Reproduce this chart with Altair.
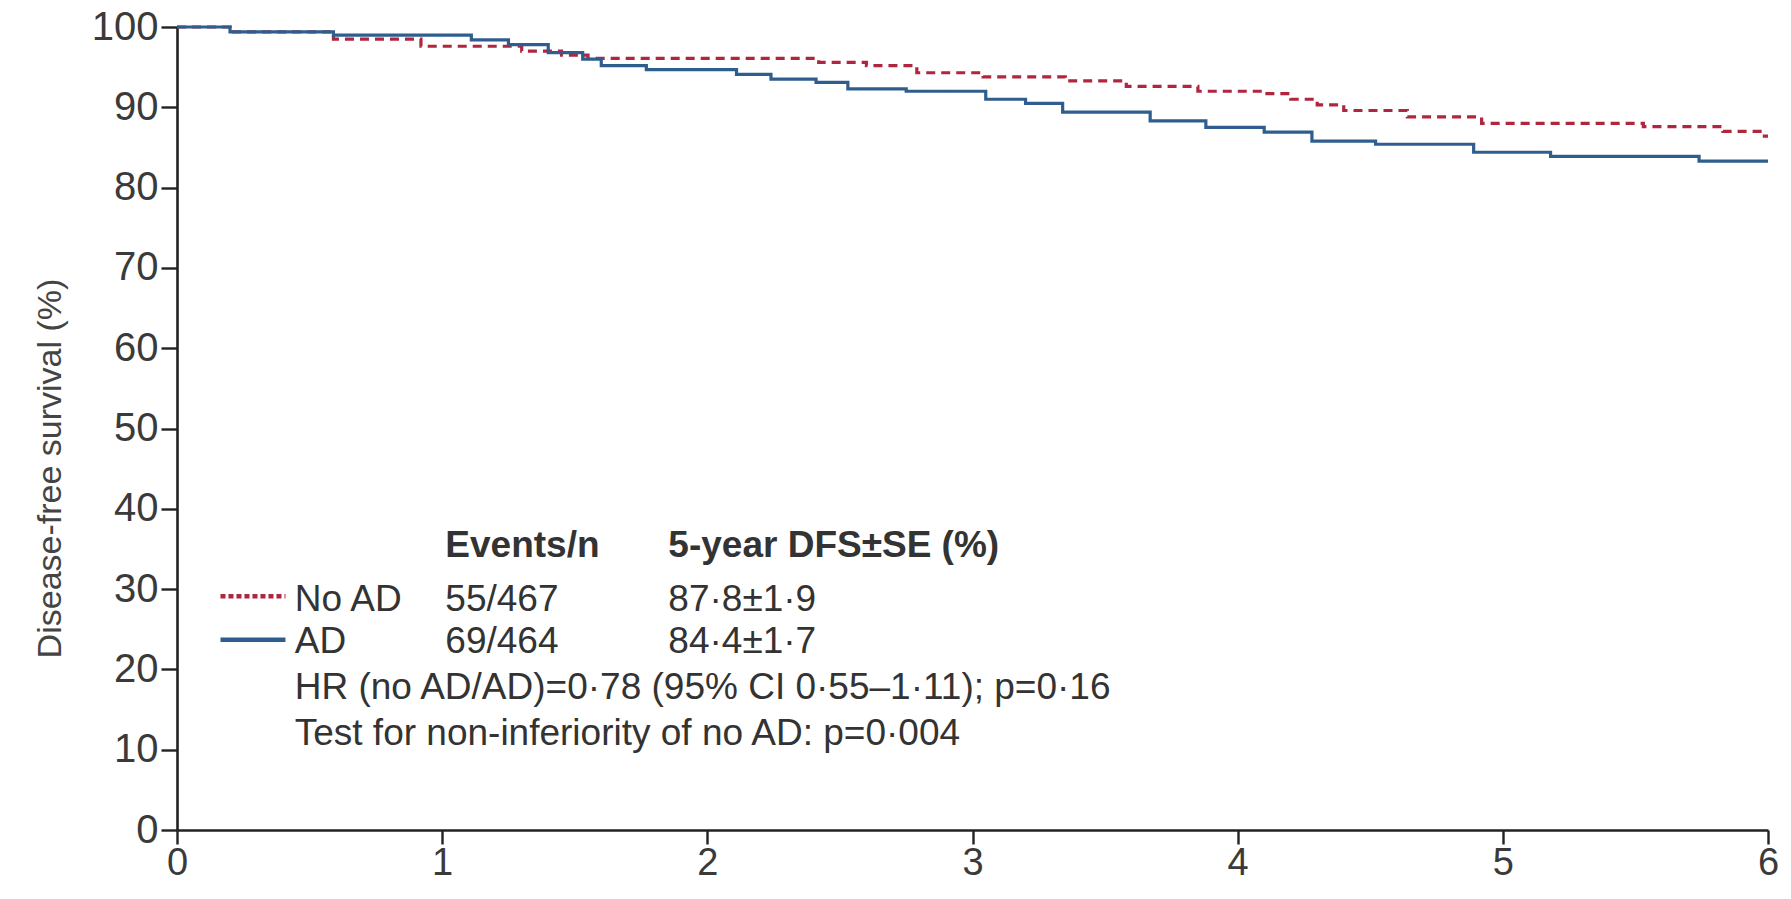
import altair as alt
import pandas as pd

# ---- data ----
noad_t = [0, 0.2, 0.59, 0.92, 1.3, 1.45, 1.55, 2.42, 2.6, 2.79, 3.04, 3.35, 3.58, 3.85,
          4.1, 4.2, 4.3, 4.4, 4.64, 4.92, 5.53, 5.83, 5.97, 6.0]
noad_s = [100, 99.4, 98.5, 97.6, 97.0, 96.5, 96.1, 95.6, 95.2, 94.3, 93.8, 93.3, 92.6, 92.0,
          91.7, 91.0, 90.3, 89.6, 88.8, 88.0, 87.6, 87.0, 86.4, 86.4]

ad_t = [0, 0.2, 0.59, 1.11, 1.25, 1.4, 1.53, 1.6, 1.77, 2.11, 2.24, 2.41, 2.53, 2.75, 3.05,
        3.2, 3.34, 3.67, 3.88, 4.1, 4.28, 4.52, 4.89, 5.18, 5.74, 6.0]
ad_s = [100, 99.4, 99.0, 98.4, 97.8, 96.8, 96.0, 95.2, 94.7, 94.1, 93.5, 93.1, 92.3, 92.0, 91.0,
        90.5, 89.4, 88.3, 87.5, 86.9, 85.8, 85.4, 84.4, 83.9, 83.3, 83.3]

groups = ["No AD", "AD"]
colors = ["#b0263f", "#2e5d8e"]

header_text = ["Events/n", "5-year DFS±SE (%)"]
header_x = [1.012, 1.853]
header_y = [35.4, 35.4]

row_text = ["No AD", "55/467", "87·8±1·9", "AD", "69/464", "84·4±1·7",
            "HR (no AD/AD)=0·78 (95% CI 0·55–1·11); p=0·16",
            "Test for non-inferiority of no AD: p=0·004"]
row_x = [0.444, 1.012, 1.853, 0.444, 1.012, 1.853, 0.444, 0.444]
row_y = [28.7, 28.7, 28.7, 23.4, 23.4, 23.4, 17.7, 12.0]

leg_x1 = [0.164, 0.164]
leg_x2 = [0.409, 0.409]
leg_y = [29.1, 23.7]

x_ticks = [0, 1, 2, 3, 4, 5, 6]
y_ticks = [0, 10, 20, 30, 40, 50, 60, 70, 80, 90, 100]

FONT = "Liberation Sans"

curves = pd.DataFrame(
    {"t": noad_t + ad_t,
     "s": noad_s + ad_s,
     "group": ["No AD"] * len(noad_t) + ["AD"] * len(ad_t)}
)
legend_df = pd.DataFrame({"x1": leg_x1, "x2": leg_x2, "y": leg_y, "group": groups})
head_df = pd.DataFrame({"x": header_x, "y": header_y, "label": header_text})
rows_df = pd.DataFrame({"x": row_x, "y": row_y, "label": row_text})

xscale = alt.Scale(domain=[0, 6], nice=False, zero=False)
yscale = alt.Scale(domain=[0, 100], nice=False)
cscale = alt.Scale(domain=groups, range=colors)
dscale = alt.Scale(domain=groups, range=[[9, 6], [1, 0]])

x_axis = alt.Axis(values=x_ticks, title=None, format="d", labelFontSize=38,
                  labelPadding=0, labelFlush=False, tickSize=14)
y_axis = alt.Axis(values=y_ticks, title="Disease-free survival (%)", format="d",
                  labelFontSize=40, labelPadding=3, tickSize=16,
                  titleFontSize=34, titleFontWeight="normal",
                  titlePadding=24, titleColor="#444", titleY=441)

base = alt.Chart(curves)

lines = base.mark_line(interpolate="step-after", strokeWidth=3.2).encode(
    x=alt.X("t:Q", scale=xscale, axis=x_axis),
    y=alt.Y("s:Q", scale=yscale, axis=y_axis),
    color=alt.Color("group:N", scale=cscale, legend=None),
    strokeDash=alt.StrokeDash("group:N", scale=dscale, legend=None),
)

leg_lines = alt.Chart(legend_df).mark_rule(strokeWidth=4.5).encode(
    x="x1:Q", x2="x2:Q", y="y:Q",
    color=alt.Color("group:N", scale=cscale, legend=None),
    strokeDash=alt.StrokeDash("group:N", scale=alt.Scale(domain=groups, range=[[5, 3], [1, 0]]),
                              legend=None),
)

heads = alt.Chart(head_df).mark_text(align="left", baseline="middle", fontSize=37,
                                     fontWeight="bold", font=FONT, color="#333").encode(
    x="x:Q", y="y:Q", text="label:N")

rows = alt.Chart(rows_df).mark_text(align="left", baseline="middle", fontSize=37,
                                    font=FONT, color="#333").encode(
    x="x:Q", y="y:Q", text="label:N")

chart = alt.layer(lines, leg_lines, heads, rows).resolve_scale(
    strokeDash="independent"
).properties(
    width=1591, height=803,
    autosize=alt.AutoSizeParams(type="none"),
    padding={"left": 177, "top": 27, "right": 23, "bottom": 69},
    background="white",
).configure_view(stroke=None).configure_axis(
    grid=False, domainColor="#222", domainWidth=2.6, tickColor="#222", tickWidth=2.4,
    labelColor="#3a3a3a", labelFont=FONT, titleFont=FONT,
)

chart.save("out.html", embed_options={"renderer": "svg", "actions": False})
